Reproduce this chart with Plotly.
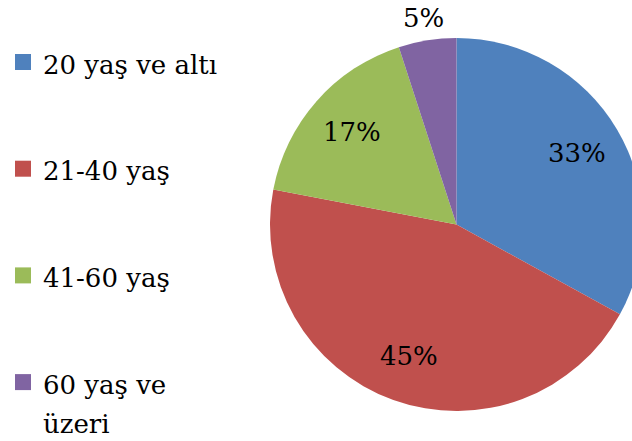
import math
import plotly.graph_objects as go

# Age groups and their shares (%)
categories = ["20 yaş ve altı", "21-40 yaş", "41-60 yaş", "60 yaş ve<br>üzeri"]
shares = [33, 45, 17, 5]
colors = ["#4F81BD", "#C0504D", "#9BBB59", "#8064A2"]

FIG_W, FIG_H = 660, 441
FONT = "DejaVu Serif"
FONT_SIZE = 26
LEGEND_LINE_SIZE = 30  # sets the legend's line pitch; the text itself stays at FONT_SIZE

# Pie box in pixels (the right edge runs slightly past the visible page)
PIE_LEFT, PIE_RIGHT = 270, 643
PIE_TOP, PIE_BOTTOM = 38, 411
dom_x = [PIE_LEFT / FIG_W, PIE_RIGHT / FIG_W]
dom_y = [1 - PIE_BOTTOM / FIG_H, 1 - PIE_TOP / FIG_H]

fig = go.Figure()

fig.add_trace(go.Pie(
    labels=categories,
    values=shares,
    marker=dict(colors=colors, line=dict(width=0)),
    sort=False,
    direction="clockwise",
    rotation=0,
    textinfo="none",
    showlegend=False,
    domain=dict(x=dom_x, y=dom_y),
    hovertemplate="%{label}: %{value}%<extra></extra>",
))

# Legend entries with square swatches, one group per entry for wide spacing
for i, (name, col) in enumerate(zip(categories, colors)):
    styled = "<br>".join(
        f"<span style='font-size:{FONT_SIZE}px'>{part}</span>" for part in name.split("<br>")
    )
    fig.add_trace(go.Scatter(
        x=[None], y=[None], mode="markers", name=styled,
        legendgroup=f"g{i}",
        marker=dict(symbol="square", size=16, color=col),
        hoverinfo="skip",
    ))

# Percentage labels placed along each slice's mid-angle
cx = (dom_x[0] + dom_x[1]) / 2
cy = (dom_y[0] + dom_y[1]) / 2
r_px = min(PIE_RIGHT - PIE_LEFT, PIE_BOTTOM - PIE_TOP) / 2
total = sum(shares)
INSIDE_R, OUTSIDE_R = 0.75, 1.12
acc = 0
for v in shares:
    mid = 2 * math.pi * (acc + v / 2) / total
    acc += v
    frac = INSIDE_R if v / total >= 0.1 else OUTSIDE_R
    fig.add_annotation(
        x=cx + frac * r_px * math.sin(mid) / FIG_W,
        y=cy + frac * r_px * math.cos(mid) / FIG_H,
        xref="paper", yref="paper",
        text=f"{v}%", showarrow=False,
        xanchor="center", yanchor="middle",
        font=dict(family=FONT, size=FONT_SIZE, color="black"),
    )

fig.update_layout(
    width=FIG_W, height=FIG_H,
    margin=dict(l=0, r=0, t=0, b=0, autoexpand=False),
    paper_bgcolor="white", plot_bgcolor="white",
    font=dict(family=FONT),
    xaxis=dict(visible=False), yaxis=dict(visible=False),
    showlegend=True,
    legend=dict(
        x=3 / FIG_W, y=1 - 36 / FIG_H, xanchor="left", yanchor="top",
        tracegroupgap=64.7, valign="top",
        bgcolor="rgba(0,0,0,0)",
        font=dict(family=FONT, size=LEGEND_LINE_SIZE, color="black"),
    ),
)

fig.write_html("out.html", config={"responsive": False})
